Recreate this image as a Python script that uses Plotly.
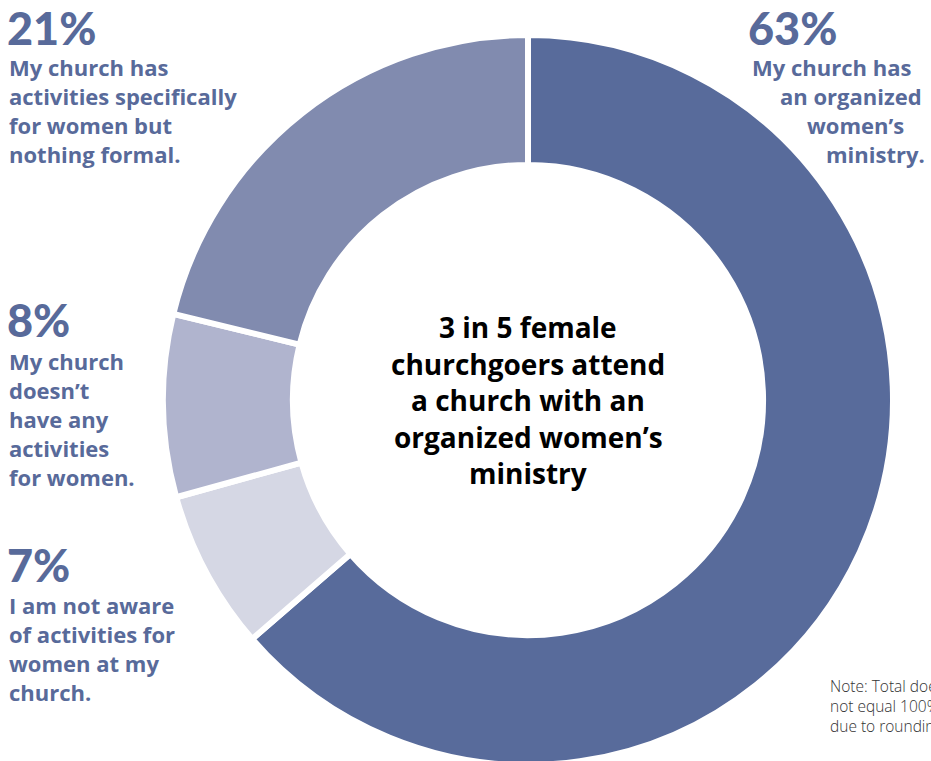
import plotly.graph_objects as go

labels = ["My church has an organized women's ministry",
          "I am not aware of activities for women at my church",
          "My church doesn't have any activities for women",
          "My church has activities specifically for women but nothing formal"]
values = [63, 7, 8, 21]
colors = ["#586b9b", "#d5d7e4", "#b0b4ce", "#818baf"]
pct_text = ["63%", "7%", "8%", "21%"]
desc_lines = [
    ["My church has", "an organized", "women’s", "ministry."],
    ["I am not aware", "of activities for", "women at my", "church."],
    ["My church", "doesn’t", "have any", "activities", "for women."],
    ["My church has", "activities specifically", "for women but", "nothing formal."],
]
center_lines = ["3 in 5 female", "churchgoers attend", "a church with an", "organized women’s", "ministry"]
note_text = "Note: Total does<br>not equal 100%<br>due to rounding."

W, H = 931, 768
FONT = "Open Sans"
PFONT = "Lato"
TXT = "#586a9a"
R = 365
CX, CY = 528, 400

fig = go.Figure(go.Pie(
    labels=labels, values=values, sort=False, direction="clockwise", rotation=0,
    hole=0.644, textinfo="none", hoverinfo="label+percent",
    marker=dict(colors=colors, line=dict(color="white", width=6)),
    domain=dict(x=[(CX - R) / W, (CX + R) / W], y=[(H - CY - R) / H, (H - CY + R) / H]),
    showlegend=False,
))

def px(x):
    return x / W

def py(y):
    return 1 - y / H

ann = []
def add(text, x, y, size, color=TXT, xanchor="left", weight="bold", family=FONT, align="left"):
    ann.append(dict(text=text, x=px(x), y=py(y), xref="paper", yref="paper",
                    xanchor=xanchor, yanchor="middle", showarrow=False, align=align,
                    font=dict(family=family, size=size, color=color, weight=weight)))

def block(lines, xs, y0, dy, size, **kw):
    for i, t in enumerate(lines):
        x = xs[i] if isinstance(xs, (list, tuple)) else xs
        add(t, x, y0 + i * dy, size, **kw)

PS = 45
DS = 22
# 21%
add(pct_text[3], 5, 28, PS, weight=900, family=PFONT)
block(desc_lines[3], 7, 67, 29, DS)
# 63%
add(pct_text[0], 746, 28, PS, weight=900, family=PFONT)
block(desc_lines[0], [913, 924, 906, 927], 67, 29, DS, xanchor="right")
# 8%
add(pct_text[2], 5, 320, PS, weight=900, family=PFONT)
block(desc_lines[2], 7, 361, 29, DS)
# 7%
add(pct_text[1], 5, 565, PS, weight=900, family=PFONT)
block(desc_lines[1], 7, 605, 29, DS)
# center
block(center_lines, CX, 327, 36.5, 28, color="#000000", xanchor="center")
# note
add(note_text, 828, 706, 15.5, color="#333333", weight=300)

fig.update_layout(width=W, height=H, margin=dict(l=0, r=0, t=0, b=0),
                  paper_bgcolor="white", plot_bgcolor="white", annotations=ann)
fig.write_html("out.html", config={"displayModeBar": False},
               post_script="document.body.style.margin='0';document.documentElement.style.overflow='hidden';document.body.style.overflow='hidden';")
